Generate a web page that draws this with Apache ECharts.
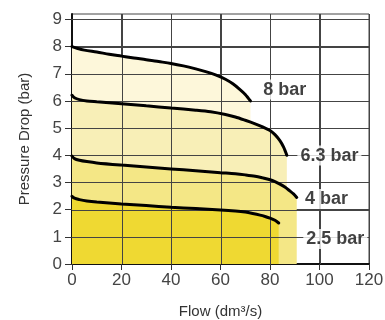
<!DOCTYPE html>
<html>
<head>
<meta charset="utf-8">
<script src="https://cdn.jsdelivr.net/npm/echarts@6/dist/echarts.min.js"></script>
<style>
html, body { margin: 0; padding: 0; background: #fff; }
#chart { width: 385px; height: 320px; }
</style>
</head>
<body>
<div id="chart"></div>
<script>
// curve data (flow dm3/s, pressure drop bar)
var flow8 = [0, 2, 5, 10, 15, 20, 25, 30, 35, 40, 45, 50, 54, 58, 62, 65, 68, 70, 72.1];
var drop8 = [8.0, 7.94, 7.87, 7.8, 7.72, 7.65, 7.58, 7.52, 7.45, 7.38, 7.29, 7.18, 7.08, 6.96, 6.8, 6.63, 6.41, 6.24, 6.0];
var flow63 = [0, 1, 3, 6, 10, 20, 30, 40, 50, 56, 62, 66, 70, 74, 77, 80, 82, 84, 85.5, 86.8];
var drop63 = [6.21, 6.12, 6.05, 6.0, 5.97, 5.9, 5.82, 5.74, 5.66, 5.6, 5.5, 5.41, 5.29, 5.16, 5.05, 4.91, 4.76, 4.54, 4.3, 4.0];
var flow4 = [0, 1, 3, 6, 10, 20, 30, 40, 50, 60, 66, 70, 74, 77, 80, 82, 84, 86, 88, 89.5, 90.8];
var drop4 = [3.97, 3.88, 3.82, 3.77, 3.72, 3.64, 3.57, 3.5, 3.43, 3.36, 3.32, 3.28, 3.23, 3.17, 3.1, 3.03, 2.94, 2.83, 2.69, 2.58, 2.45];
var flow25 = [0, 1, 3, 6, 10, 20, 30, 40, 50, 60, 66, 70, 73, 76, 78, 80, 82, 83.5];
var drop25 = [2.49, 2.42, 2.37, 2.32, 2.28, 2.21, 2.15, 2.09, 2.04, 1.99, 1.95, 1.91, 1.86, 1.8, 1.75, 1.69, 1.61, 1.51];

var labelText = ['8 bar', '6.3 bar', '4 bar', '2.5 bar'];
var labelFlow = [86, 104, 102.8, 106.4];
var labelDrop = [6.42, 3.99, 2.39, 0.92];

var yTicks = [0, 1, 2, 3, 4, 5, 6, 7, 8, 9];
var xGrid = [20, 40, 60, 80, 100];
var yGrid = [1, 2, 3, 4, 5, 6, 7, 8, 9];
var xMax = 120, yMax = 9.2;

var curves = [
	{ x: flow8, y: drop8, color: '#fdf7da' },
	{ x: flow63, y: drop63, color: '#f8efb7' },
	{ x: flow4, y: drop4, color: '#f4e786' },
	{ x: flow25, y: drop25, color: '#efd932' }
];

function pairs(xs, ys) {
	var out = [];
	for (var i = 0; i < xs.length; i++) out.push([xs[i], ys[i]]);
	return out;
}

var series = [];
// yellow fills, lowest
curves.forEach(function (c) {
	series.push({
		type: 'line',
		z: 1,
		data: pairs(c.x, c.y),
		smooth: 0.3,
		symbol: 'none',
		lineStyle: { width: 0 },
		areaStyle: { color: c.color, opacity: 1 }
	});
});

// grid lines over the fills: [0, v] = vertical at flow v, [1, v] = horizontal at drop v
var gridData = [];
xGrid.forEach(function (v) { gridData.push([0, v]); });
yGrid.forEach(function (v) { gridData.push([1, v]); });
series.push({
	type: 'custom',
	z: 2,
	silent: true,
	data: gridData,
	encode: { x: -1, y: -1 },
	renderItem: function (params, api) {
		var kind = api.value(0), v = api.value(1);
		var a, b;
		if (kind === 0) {
			a = api.coord([v, 0]); b = api.coord([v, yMax]);
			a[0] = b[0] = Math.round(a[0]) + 0.5;
		} else {
			a = api.coord([0, v]); b = api.coord([xMax, v]);
			a[1] = b[1] = Math.round(a[1]) + 0.5;
		}
		return {
			type: 'line',
			shape: { x1: a[0], y1: a[1], x2: b[0], y2: b[1] },
			style: { stroke: '#444', lineWidth: 1 }
		};
	}
});

// black curves
curves.forEach(function (c) {
	series.push({
		type: 'line',
		z: 3,
		data: pairs(c.x, c.y),
		smooth: 0.3,
		symbol: 'none',
		lineStyle: { width: 3, color: '#000', cap: 'round' }
	});
});

var lab = [];
for (var i = 0; i < labelText.length; i++) lab.push([labelFlow[i], labelDrop[i], labelText[i]]);
series.push({
	type: 'scatter',
	z: 4,
	symbolSize: 0,
	data: lab,
	label: {
		show: true,
		position: 'inside',
		formatter: function (p) { return p.data[2]; },
		fontFamily: 'Liberation Sans',
		fontWeight: 'bold',
		fontSize: 18,
		color: '#111',
		backgroundColor: '#fff',
		padding: [1, 3]
	}
});

var chart = echarts.init(document.getElementById('chart'));
chart.setOption({
	animation: false,
	grid: {
		left: 72, right: 16, top: 14, bottom: 56,
		outerBoundsMode: 'none', containLabel: false,
		show: true, borderColor: '#444', borderWidth: 1
	},
	xAxis: {
		type: 'value', min: 0, max: xMax, interval: 20,
		name: 'Flow (dm³/s)', nameLocation: 'middle', nameGap: 40,
		nameTextStyle: { fontFamily: 'Liberation Sans', fontSize: 15, color: '#333' },
		axisLine: { show: true, lineStyle: { color: '#111', width: 2 } },
		axisTick: { show: true, length: 6, lineStyle: { color: '#333', width: 1 } },
		axisLabel: { fontFamily: 'Liberation Sans', fontSize: 17, color: '#444', margin: 8 },
		splitLine: { show: true, lineStyle: { color: '#444', width: 1 } }
	},
	yAxis: {
		type: 'value', min: 0, max: yMax,
		name: 'Pressure Drop (bar)', nameLocation: 'middle', nameGap: 40,
		nameTextStyle: { fontFamily: 'Liberation Sans', fontSize: 15, color: '#333' },
		axisLine: { show: true, lineStyle: { color: '#111', width: 2 } },
		axisTick: { show: true, length: 7, customValues: yTicks, lineStyle: { color: '#333', width: 1 } },
		axisLabel: { fontFamily: 'Liberation Sans', fontSize: 17, color: '#444', margin: 10, customValues: yTicks },
		splitLine: { show: true, lineStyle: { color: '#444', width: 1 } }
	},
	series: series
});
</script>
</body>
</html>
